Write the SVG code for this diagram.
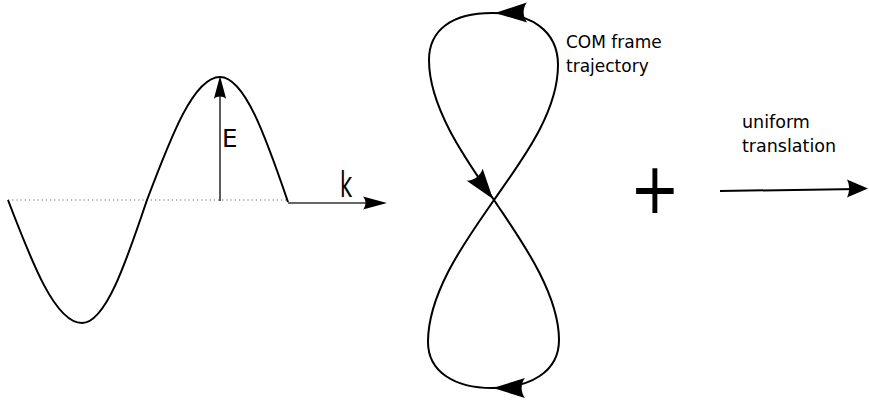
<svg xmlns="http://www.w3.org/2000/svg" xmlns:xlink="http://www.w3.org/1999/xlink" width="869" height="402" viewBox="0 0 869 402">
<style>
.curve{fill:none;stroke:#000;stroke-width:2}
.axis{fill:none;stroke:#333;stroke-width:1.6}
.dots{fill:none;stroke:#666;stroke-width:1.2;stroke-dasharray:1.2 3}
.lbl{font-family:"DejaVu Sans","Liberation Sans",sans-serif;fill:#000}
.head{fill:#000}
</style>
<defs>
<path id="ah" d="M0,0 L32,-10 C27.5,-4 27.5,4 32,10 Z"/>
</defs>
<rect width="869" height="402" fill="#fff"/>
<g id="dispersion">
<path class="dots" d="M8,200 H288"/>
<path class="curve" d="M8,200 C32.1,263 55.2,323 82,323 C105.5,323 125.8,263 147,200 C170.8,137 193.6,77 220,77 C244.6,77 265.8,137 288,202"/>
</g>
<g id="connectors">
<path class="axis" d="M220,201 V86"/>
<use href="#ah" class="head" transform="translate(220,76) rotate(90) scale(0.72,0.62)"/>
<path class="axis" d="M288,203 H378"/>
<use href="#ah" class="head" transform="translate(387,203) rotate(180) scale(0.75,0.65)"/>
<path class="curve" d="M720,191 L858,189"/>
<use href="#ah" class="head" transform="translate(868,188.5) rotate(180) scale(0.66,0.9)"/>
</g>
<g id="label-E"><text class="lbl" x="222" y="147" font-size="24.5">E</text></g>
<g id="label-k"><text class="lbl" transform="translate(340,197) scale(0.6,1)" font-size="35">k</text></g>
<g id="figure8">
<path class="curve" d="M494,200 C515,232 559,290 559,340 C559,372 530,388 492,388 C455,388 428,372 428,342 C428,290 470,235 494,200 C518,165 558,115 558,65 C558,30 530,13 492,13 C452,13 429,30 429,60 C429,110 470,165 494,200"/>
<use href="#ah" class="head" transform="translate(495,13) rotate(-1)"/>
<use href="#ah" class="head" transform="translate(493,388) rotate(0)"/>
<use href="#ah" class="head" transform="translate(493,199) rotate(-127) scale(0.95,1)"/>
</g>
<g id="label-com">
<text class="lbl" x="566" y="48" font-size="17">COM frame</text>
<text class="lbl" x="566" y="72" font-size="17">trajectory</text>
</g>
<g id="plus"><text class="lbl" transform="translate(655,213) scale(1,1.2)" text-anchor="middle" font-size="60">+</text></g>
<g id="label-translation">
<text class="lbl" x="742" y="128" font-size="17.5">uniform</text>
<text class="lbl" x="742" y="152" font-size="17.5">translation</text>
</g>
</svg>
